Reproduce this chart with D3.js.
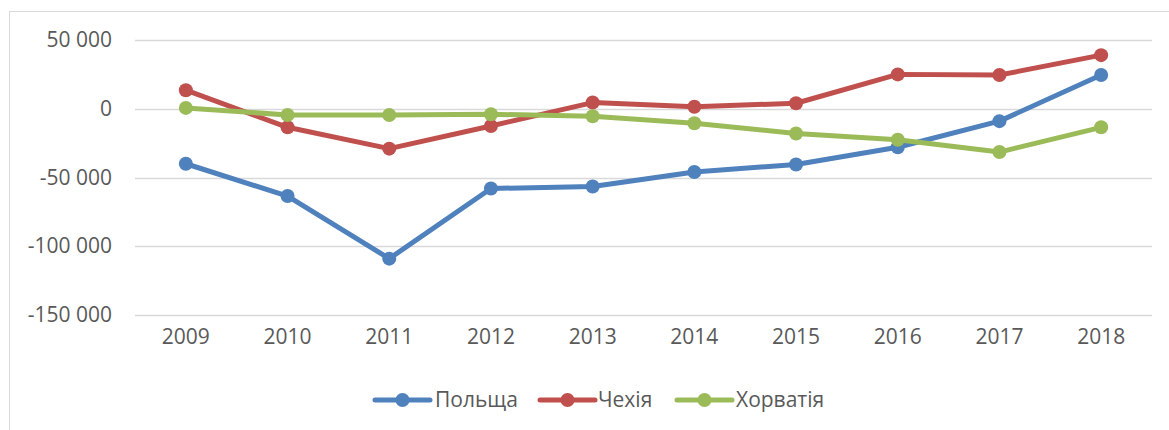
<!DOCTYPE html>
<html>
<head>
<meta charset="utf-8">
<script src="https://cdn.jsdelivr.net/npm/d3@7"></script>
<style>
  html, body { margin: 0; padding: 0; background: #fff; overflow: hidden; }
  svg { display: block; }
  text { font-family: "Open Sans", "Liberation Sans", sans-serif; fill: #595959; }
</style>
</head>
<body>
<script>
const years = ["2009","2010","2011","2012","2013","2014","2015","2016","2017","2018"];
const poland  = [-40000, -63500, -109000, -58000, -56500, -46000, -40500, -28000, -9000, 24500];
const czech   = [13500, -13500, -29000, -12500, 4500, 1500, 4000, 25000, 24500, 39000];
const croatia = [600, -4500, -4500, -4000, -5500, -10500, -18000, -22500, -31500, -13500];
const seriesNames = ["Польща", "Чехія", "Хорватія"];
const seriesColors = ["#4F81BD", "#C0504D", "#9BBB59"];
const yTicks = [50000, 0, -50000, -100000, -150000];

const W = 1169, H = 430;
const svg = d3.select("body").append("svg").attr("width", W).attr("height", H);

// chart border
svg.append("rect").attr("x", 9.5).attr("y", 11.5).attr("width", W + 10).attr("height", H + 10)
  .attr("fill", "none").attr("stroke", "#D9D9D9").attr("stroke-width", 1);

const plotLeft = 135, plotRight = 1152, plotTop = 40, plotBottom = 315;
const x = d3.scaleBand().domain(years).range([plotLeft, plotRight]);
const y = d3.scaleLinear().domain([-150000, 50000]).range([plotBottom, plotTop]);

const fmt = v => d3.format(",")(v).replace(/,/g, " ").replace("−", "-");
const FS = 21;

// gridlines
svg.append("g").selectAll("line").data(yTicks).join("line")
  .attr("x1", plotLeft).attr("x2", plotRight)
  .attr("y1", d => Math.round(y(d)) + 0.5).attr("y2", d => Math.round(y(d)) + 0.5)
  .attr("stroke", "#D9D9D9").attr("stroke-width", 1.3);

// y labels
const yAxis = d3.axisLeft(y).tickValues(yTicks).tickFormat(fmt).tickSize(0).tickPadding(0);
const gy = svg.append("g").attr("transform", `translate(112,0)`).call(yAxis);
gy.select(".domain").remove();
gy.selectAll("text").attr("font-size", FS).style("font-family", '"Open Sans", sans-serif').attr("fill", "#595959");

// x labels
const xAxis = d3.axisBottom(x).tickSize(0).tickPadding(0);
const gx = svg.append("g").attr("transform", `translate(0,329)`).call(xAxis);
gx.select(".domain").remove();
gx.selectAll("text").attr("font-size", FS).style("font-family", '"Open Sans", sans-serif').attr("fill", "#595959");

const allSeries = [poland, czech, croatia];
const cx = d => x(d) + x.bandwidth() / 2;
const line = d3.line().x((d, i) => cx(years[i])).y(d => y(d));

allSeries.forEach((vals, si) => {
  const g = svg.append("g");
  g.append("path").datum(vals).attr("d", line)
    .attr("fill", "none").attr("stroke", seriesColors[si]).attr("stroke-width", 5)
    .attr("stroke-linejoin", "round").attr("stroke-linecap", "round");
  g.selectAll("circle").data(vals).join("circle")
    .attr("cx", (d, i) => cx(years[i])).attr("cy", d => y(d)).attr("r", 7)
    .attr("fill", seriesColors[si]);
});

// legend
const legendItems = [{x: 375, tx: 435}, {x: 540, tx: 598}, {x: 677, tx: 736}];
const lg = svg.append("g");
seriesNames.forEach((name, i) => {
  const it = legendItems[i];
  const ly = 400;
  lg.append("line").attr("x1", it.x).attr("x2", it.x + 55).attr("y1", ly).attr("y2", ly)
    .attr("stroke", seriesColors[i]).attr("stroke-width", 5).attr("stroke-linecap", "round");
  lg.append("circle").attr("cx", it.x + 27.5).attr("cy", ly).attr("r", 7).attr("fill", seriesColors[i]);
  lg.append("text").attr("x", it.tx).attr("y", ly).attr("dy", "0.35em")
    .attr("font-size", FS).text(name);
});
</script>
</body>
</html>
